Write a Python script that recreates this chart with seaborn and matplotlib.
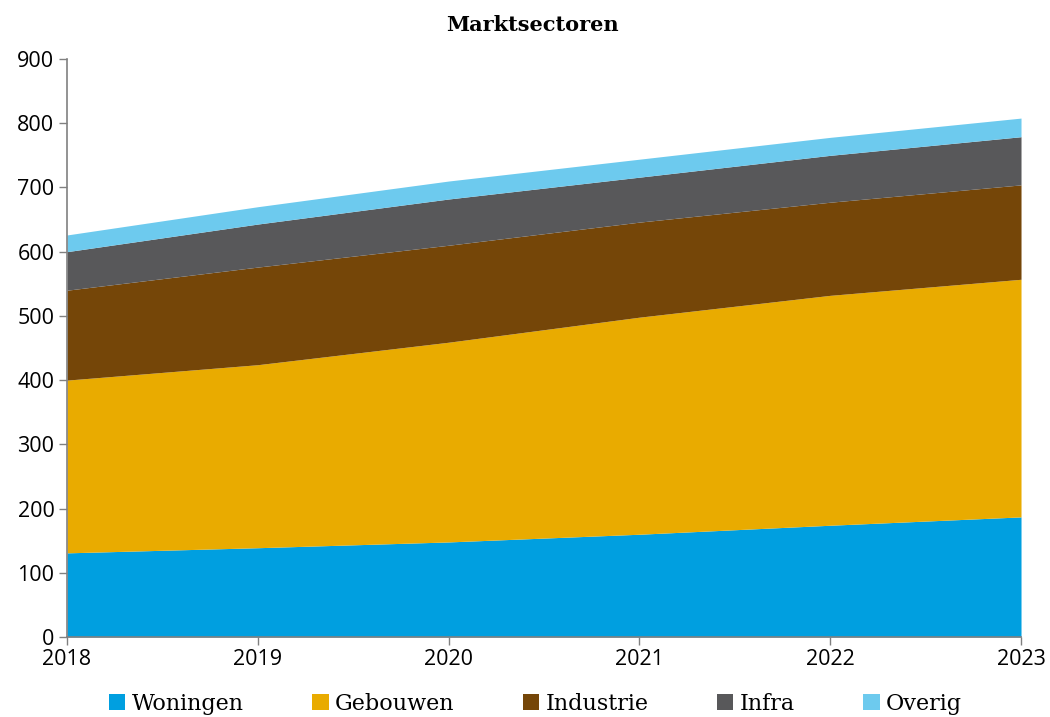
import matplotlib
matplotlib.use("Agg")
import matplotlib.pyplot as plt
import seaborn as sns
import numpy as np

# values (stacked, per sector)
years = [2018, 2019, 2020, 2021, 2022, 2023]
woningen = [131, 139, 148, 160, 174, 187]
gebouwen = [269, 285, 311, 338, 358, 370]
industrie = [140, 152, 151, 148, 145, 147]
infra = [60, 67, 72, 70, 73, 75]
overig = [26, 27, 28, 28, 28, 29]

labels = ["Woningen", "Gebouwen", "Industrie", "Infra", "Overig"]
colors = ["#009FE0", "#E9AB00", "#754608", "#58585A", "#6DCAEE"]

sns.set_theme(style="white")
plt.rcParams["font.family"] = ["Open Sans", "DejaVu Sans"]

fig = plt.figure(figsize=(10.5, 7.17), dpi=100)
ax = fig.add_axes([0.0638, 0.1116, 0.9086, 0.8061])

ax.stackplot(years, woningen, gebouwen, industrie, infra, overig,
             labels=labels, colors=colors, linewidth=0)

ax.set_xlim(2018, 2023)
ax.set_ylim(0, 900)
ax.set_xticks(years)
ax.set_yticks(range(0, 901, 100))
ax.tick_params(axis="both", labelsize=15.5, length=6, width=1, color="#808080",
               labelcolor="black", direction="out", left=True, bottom=True, pad=3)
sns.despine(ax=ax)
for side in ["left", "bottom"]:
    ax.spines[side].set_color("#808080")
    ax.spines[side].set_linewidth(1.2)

fig.text(0.507, 0.965, "Marktsectoren", ha="center", va="center", color="black",
         fontsize=15, fontweight="bold", family=["DejaVu Serif"])

leg = fig.legend(loc="center", bbox_to_anchor=(0.51, 0.018), ncol=5,
                 frameon=False, handlelength=0.75, handleheight=0.75,
                 handletextpad=0.3, columnspacing=3.05,
                 prop={"family": "DejaVu Serif", "size": 16})
for t in leg.get_texts():
    t.set_color("black")

fig.savefig("out.png", dpi=100)
